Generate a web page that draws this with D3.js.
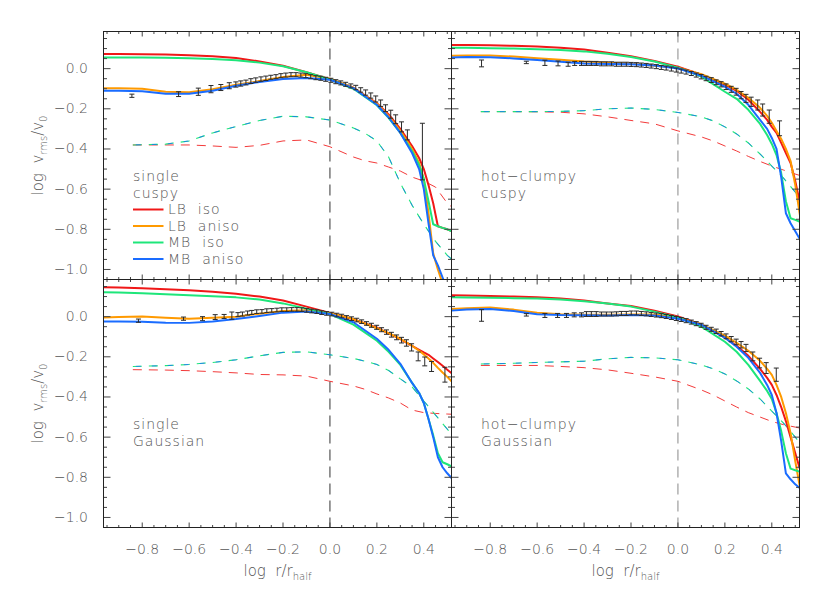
<!DOCTYPE html>
<html>
<head>
<meta charset="utf-8">
<script src="https://cdn.jsdelivr.net/npm/d3@7"></script>
<style>
body { margin: 0; background: #fff; }
svg { display: block; font-family: "DejaVu Sans", sans-serif; font-weight: 200; }
</style>
</head>
<body>
<svg id="chart" width="830" height="593"></svg>
<script>
// x positions (log r/r_half) of the model curves
const lineX = [-0.965, -0.9, -0.8, -0.7, -0.6, -0.5, -0.4, -0.3, -0.2, -0.1, 0.0, 0.1, 0.2, 0.25, 0.3, 0.35, 0.38, 0.40, 0.42, 0.44, 0.46, 0.48, 0.50, 0.52];
const dashX = [-0.84, -0.7, -0.6, -0.5, -0.4, -0.3, -0.2, -0.1, 0.0, 0.1, 0.15, 0.2, 0.25, 0.3, 0.35, 0.4, 0.45, 0.5, 0.52];

// single / cuspy
const scLBiso   = [0.073, 0.073, 0.072, 0.070, 0.067, 0.062, 0.053, 0.036, 0.014, -0.018, -0.052, -0.095, -0.172, -0.228, -0.300, -0.385, -0.445, -0.50, -0.58, -0.67, -0.785, -0.793, -0.80, -0.81];
const scLBaniso = [-0.098, -0.098, -0.100, -0.115, -0.118, -0.102, -0.080, -0.062, -0.042, -0.030, -0.050, -0.095, -0.175, -0.235, -0.31, -0.40, -0.47, -0.55, -0.72, -0.92, -1.0, -1.07, -1.12, -1.12];
const scMBiso   = [0.056, 0.056, 0.055, 0.054, 0.052, 0.048, 0.042, 0.030, 0.012, -0.018, -0.054, -0.100, -0.182, -0.245, -0.320, -0.41, -0.48, -0.55, -0.66, -0.775, -0.785, -0.793, -0.80, -0.81];
const scMBaniso = [-0.110, -0.110, -0.112, -0.125, -0.125, -0.110, -0.085, -0.066, -0.052, -0.046, -0.055, -0.097, -0.180, -0.242, -0.32, -0.42, -0.50, -0.60, -0.77, -0.93, -0.98, -1.04, -1.1, -1.1];
const scLBdash  = [-0.38, -0.38, -0.38, -0.385, -0.392, -0.382, -0.36, -0.355, -0.389, -0.44, -0.459, -0.47, -0.49, -0.51, -0.54, -0.56, -0.59, -0.67, -0.69];
const scMBdash  = [-0.38, -0.376, -0.36, -0.32, -0.288, -0.258, -0.237, -0.240, -0.256, -0.295, -0.322, -0.36, -0.44, -0.57, -0.68, -0.775, -0.86, -0.93, -0.95];
const scObs = [
  [-0.844,-0.135,0.008], [-0.645,-0.127,0.012], [-0.561,-0.115,0.018], [-0.507,-0.102,0.018],
  [-0.465,-0.094,0.015], [-0.429,-0.085,0.015], [-0.401,-0.079,0.013], [-0.380,-0.074,0.013],
  [-0.358,-0.069,0.012], [-0.337,-0.062,0.012], [-0.316,-0.057,0.011], [-0.294,-0.052,0.011],
  [-0.273,-0.048,0.011], [-0.252,-0.043,0.010], [-0.230,-0.040,0.010], [-0.209,-0.035,0.010],
  [-0.188,-0.032,0.010], [-0.166,-0.030,0.010], [-0.145,-0.030,0.010], [-0.124,-0.032,0.010],
  [-0.103,-0.035,0.010], [-0.082,-0.040,0.010], [-0.060,-0.045,0.010], [-0.039,-0.048,0.010],
  [-0.018,-0.053,0.010], [0.004,-0.058,0.010], [0.025,-0.065,0.010], [0.046,-0.071,0.010],
  [0.067,-0.078,0.010], [0.089,-0.086,0.010], [0.110,-0.094,0.011], [0.131,-0.106,0.011],
  [0.152,-0.119,0.013], [0.174,-0.134,0.013], [0.195,-0.151,0.015], [0.216,-0.172,0.016],
  [0.237,-0.197,0.017], [0.259,-0.227,0.020], [0.280,-0.252,0.022], [0.305,-0.290,0.025],
  [0.330,-0.330,0.025], [0.394,-0.413,0.141]
];

// hot-clumpy / cuspy
const hcLBiso   = [0.118, 0.118, 0.116, 0.114, 0.110, 0.104, 0.095, 0.079, 0.062, 0.038, 0.010, -0.030, -0.080, -0.110, -0.155, -0.215, -0.255, -0.29, -0.32, -0.37, -0.42, -0.47, -0.56, -0.67];
const hcLBaniso = [0.064, 0.066, 0.066, 0.060, 0.052, 0.044, 0.035, 0.030, 0.025, 0.015, 0.005, -0.028, -0.075, -0.105, -0.145, -0.195, -0.235, -0.27, -0.31, -0.35, -0.40, -0.46, -0.58, -0.73];
const hcMBiso   = [0.104, 0.104, 0.102, 0.100, 0.097, 0.093, 0.086, 0.074, 0.058, 0.036, 0.005, -0.040, -0.115, -0.150, -0.205, -0.275, -0.33, -0.375, -0.43, -0.52, -0.66, -0.745, -0.753, -0.763];
const hcMBaniso = [0.055, 0.058, 0.057, 0.051, 0.043, 0.034, 0.026, 0.023, 0.022, 0.016, 0.001, -0.035, -0.090, -0.125, -0.180, -0.255, -0.30, -0.345, -0.40, -0.54, -0.72, -0.77, -0.81, -0.85];
const hcLBdash  = [-0.214, -0.214, -0.215, -0.217, -0.225, -0.240, -0.258, -0.275, -0.31, -0.34, -0.36, -0.385, -0.41, -0.437, -0.462, -0.485, -0.505, -0.525, -0.532];
const hcMBdash  = [-0.214, -0.214, -0.214, -0.213, -0.209, -0.200, -0.196, -0.203, -0.218, -0.24, -0.26, -0.29, -0.325, -0.37, -0.425, -0.485, -0.545, -0.615, -0.64];
const hcObs = [
  [-0.837,0.026,0.017], [-0.646,0.031,0.006], [-0.567,0.029,0.013], [-0.511,0.026,0.012],
  [-0.468,0.022,0.010], [-0.440,0.026,0.010], [-0.411,0.026,0.010], [-0.390,0.026,0.010],
  [-0.369,0.026,0.010], [-0.348,0.026,0.010], [-0.326,0.024,0.010], [-0.305,0.024,0.010],
  [-0.283,0.024,0.010], [-0.262,0.022,0.010], [-0.241,0.022,0.010], [-0.220,0.022,0.010],
  [-0.199,0.021,0.010], [-0.177,0.020,0.010], [-0.156,0.018,0.010], [-0.135,0.016,0.010],
  [-0.114,0.013,0.010], [-0.092,0.010,0.010], [-0.071,0.006,0.010], [-0.050,0.003,0.010],
  [-0.028,-0.002,0.010], [-0.007,-0.007,0.010], [0.014,-0.012,0.010], [0.035,-0.017,0.010],
  [0.057,-0.024,0.010], [0.078,-0.032,0.010], [0.099,-0.040,0.011], [0.120,-0.049,0.011],
  [0.142,-0.057,0.012], [0.163,-0.068,0.012], [0.184,-0.078,0.013], [0.205,-0.090,0.014],
  [0.227,-0.103,0.015], [0.248,-0.115,0.017], [0.269,-0.132,0.018], [0.290,-0.148,0.020],
  [0.312,-0.165,0.023], [0.340,-0.181,0.025], [0.361,-0.206,0.030], [0.389,-0.239,0.033],
  [0.433,-0.297,0.037]
];

// single / Gaussian
const sgLBiso   = [0.146, 0.145, 0.141, 0.137, 0.131, 0.124, 0.114, 0.100, 0.080, 0.050, 0.018, -0.013, -0.055, -0.083, -0.112, -0.145, -0.165, -0.178, -0.19, -0.208, -0.226, -0.245, -0.264, -0.283];
const sgLBaniso = [-0.004, -0.002, 0.001, -0.005, -0.010, -0.006, 0.000, 0.015, 0.028, 0.032, 0.018, -0.012, -0.058, -0.082, -0.11, -0.145, -0.170, -0.188, -0.208, -0.230, -0.255, -0.278, -0.300, -0.324];
const sgMBiso   = [0.122, 0.120, 0.116, 0.112, 0.107, 0.102, 0.096, 0.085, 0.066, 0.040, 0.013, -0.040, -0.120, -0.175, -0.24, -0.33, -0.38, -0.43, -0.51, -0.59, -0.68, -0.725, -0.735, -0.747];
const sgMBaniso = [-0.024, -0.024, -0.025, -0.030, -0.031, -0.024, -0.012, 0.003, 0.020, 0.026, 0.013, -0.028, -0.110, -0.165, -0.235, -0.33, -0.38, -0.43, -0.51, -0.60, -0.70, -0.75, -0.78, -0.806];
const sgLBdash  = [-0.264, -0.266, -0.269, -0.274, -0.280, -0.288, -0.290, -0.296, -0.322, -0.345, -0.362, -0.385, -0.405, -0.43, -0.465, -0.478, -0.482, -0.485, -0.486];
const sgMBdash  = [-0.248, -0.244, -0.238, -0.228, -0.215, -0.195, -0.178, -0.175, -0.19, -0.208, -0.222, -0.238, -0.268, -0.31, -0.35, -0.42, -0.49, -0.56, -0.59];
const sgObs = [
  [-0.816,-0.020,0.008], [-0.624,-0.010,0.008], [-0.543,-0.010,0.010], [-0.489,-0.002,0.012],
  [-0.451,0.001,0.010], [-0.418,0.005,0.018], [-0.392,0.010,0.010], [-0.373,0.013,0.010],
  [-0.351,0.018,0.010], [-0.333,0.021,0.010], [-0.312,0.025,0.009], [-0.290,0.026,0.009],
  [-0.269,0.030,0.009], [-0.248,0.031,0.009], [-0.226,0.033,0.009], [-0.205,0.035,0.009],
  [-0.184,0.035,0.009], [-0.163,0.036,0.009], [-0.141,0.036,0.009], [-0.120,0.035,0.009],
  [-0.099,0.031,0.009], [-0.078,0.028,0.009], [-0.056,0.025,0.009], [-0.035,0.020,0.009],
  [-0.014,0.016,0.009], [0.008,0.013,0.009], [0.029,0.008,0.009], [0.050,0.003,0.009],
  [0.071,-0.004,0.009], [0.092,-0.010,0.009], [0.114,-0.017,0.009], [0.135,-0.025,0.009],
  [0.156,-0.034,0.009], [0.177,-0.043,0.010], [0.199,-0.053,0.010], [0.220,-0.065,0.010],
  [0.241,-0.077,0.011], [0.262,-0.090,0.012], [0.284,-0.103,0.012], [0.305,-0.117,0.014],
  [0.326,-0.131,0.016], [0.348,-0.153,0.018], [0.376,-0.198,0.022], [0.404,-0.223,0.022],
  [0.433,-0.248,0.025], [0.490,-0.289,0.037]
];

// hot-clumpy / Gaussian
const hgLBiso   = [0.106, 0.105, 0.103, 0.100, 0.097, 0.090, 0.080, 0.066, 0.053, 0.030, 0.001, -0.040, -0.105, -0.145, -0.195, -0.26, -0.305, -0.34, -0.39, -0.45, -0.52, -0.60, -0.68, -0.76];
const hgLBaniso = [0.038, 0.042, 0.045, 0.035, 0.020, 0.012, 0.010, 0.009, 0.011, 0.011, -0.007, -0.038, -0.095, -0.130, -0.17, -0.22, -0.26, -0.29, -0.34, -0.40, -0.48, -0.58, -0.72, -0.85];
const hgMBiso   = [0.096, 0.095, 0.094, 0.092, 0.090, 0.085, 0.077, 0.065, 0.050, 0.025, -0.004, -0.050, -0.125, -0.175, -0.24, -0.32, -0.37, -0.41, -0.48, -0.57, -0.68, -0.757, -0.765, -0.772];
const hgMBaniso = [0.030, 0.035, 0.038, 0.028, 0.012, 0.008, 0.007, 0.006, 0.008, 0.006, -0.010, -0.040, -0.105, -0.15, -0.205, -0.28, -0.34, -0.39, -0.48, -0.62, -0.78, -0.81, -0.835, -0.855];
const hgLBdash  = [-0.243, -0.243, -0.243, -0.248, -0.254, -0.265, -0.282, -0.300, -0.322, -0.365, -0.39, -0.42, -0.45, -0.478, -0.50, -0.522, -0.538, -0.55, -0.555];
const hgMBdash  = [-0.236, -0.232, -0.228, -0.225, -0.222, -0.21, -0.203, -0.205, -0.215, -0.24, -0.26, -0.285, -0.32, -0.36, -0.41, -0.47, -0.53, -0.60, -0.63];
const hgObs = [
  [-0.837,0.006,0.029], [-0.646,0.009,0.006], [-0.567,0.006,0.010], [-0.513,0.006,0.010],
  [-0.475,0.006,0.010], [-0.442,0.009,0.010], [-0.411,0.009,0.010], [-0.390,0.013,0.012],
  [-0.369,0.013,0.012], [-0.348,0.013,0.012], [-0.326,0.013,0.010], [-0.305,0.013,0.010],
  [-0.283,0.013,0.010], [-0.262,0.014,0.010], [-0.241,0.016,0.010], [-0.220,0.016,0.010],
  [-0.199,0.018,0.010], [-0.177,0.018,0.010], [-0.156,0.016,0.010], [-0.135,0.014,0.010],
  [-0.114,0.011,0.010], [-0.092,0.008,0.010], [-0.071,0.005,0.010], [-0.050,0.001,0.010],
  [-0.028,-0.004,0.010], [-0.007,-0.009,0.010], [0.014,-0.014,0.010], [0.035,-0.020,0.010],
  [0.057,-0.027,0.010], [0.078,-0.035,0.010], [0.099,-0.043,0.010], [0.120,-0.053,0.010],
  [0.142,-0.063,0.010], [0.163,-0.073,0.011], [0.184,-0.085,0.011], [0.205,-0.098,0.012],
  [0.227,-0.112,0.013], [0.248,-0.126,0.014], [0.269,-0.140,0.016], [0.290,-0.156,0.018],
  [0.319,-0.198,0.022], [0.348,-0.231,0.024], [0.376,-0.256,0.027], [0.419,-0.289,0.033]
];

const models = ["LB iso", "LB aniso", "MB iso", "MB aniso"];
const modelColors = ["#f01818", "#ff9a00", "#1ee67a", "#1a6cff"];
const xMajor = [-0.8, -0.6, -0.4, -0.2, 0.0, 0.2, 0.4];
const xMinor = [-0.95, -0.9, -0.85, -0.75, -0.7, -0.65, -0.55, -0.5, -0.45, -0.35, -0.3, -0.25, -0.15, -0.1, -0.05, 0.05, 0.1, 0.15, 0.25, 0.3, 0.35, 0.45, 0.5];
const yMajor = [0.0, -0.2, -0.4, -0.6, -0.8, -1.0];
const yMinor = [0.15, 0.1, 0.05, -0.05, -0.1, -0.15, -0.25, -0.3, -0.35, -0.45, -0.5, -0.55, -0.65, -0.7, -0.75, -0.85, -0.9, -0.95];

const panels = [
  {col: 0, row: 0, text: ["single", "cuspy"], legend: true,
   solid: [scLBiso, scLBaniso, scMBiso, scMBaniso], lbDash: scLBdash, mbDash: scMBdash, obs: scObs},
  {col: 1, row: 0, text: ["hot\u2212clumpy", "cuspy"], legend: false,
   solid: [hcLBiso, hcLBaniso, hcMBiso, hcMBaniso], lbDash: hcLBdash, mbDash: hcMBdash, obs: hcObs},
  {col: 0, row: 1, text: ["single", "Gaussian"], legend: false,
   solid: [sgLBiso, sgLBaniso, sgMBiso, sgMBaniso], lbDash: sgLBdash, mbDash: sgMBdash, obs: sgObs},
  {col: 1, row: 1, text: ["hot\u2212clumpy", "Gaussian"], legend: false,
   solid: [hgLBiso, hgLBaniso, hgMBiso, hgMBaniso], lbDash: hgLBdash, mbDash: hgMBdash, obs: hgObs}
];

const margin = {left: 103.5, top: 31.5};
const pw = 348, ph = 248;
const textColor = "#555";

const svg = d3.select("#chart");

const x = d3.scaleLinear().domain([-0.965, 0.518]).range([0, pw]);
const y = d3.scaleLinear().domain([0.185, -1.05]).range([0, ph]);

const line = d3.line().x(d => x(d[0])).y(d => y(d[1]));
const fmt = d3.format(".1f");

function styleAxis(g) {
  g.select(".domain").remove();
  g.selectAll(".tick line").attr("stroke", "#444").attr("stroke-width", 1);
  g.selectAll(".tick text")
    .attr("fill", textColor)
    .attr("font-size", 14)
    .attr("font-family", "DejaVu Sans, sans-serif")
    .attr("font-weight", 200);
}

panels.forEach((p, i) => {
  const g = svg.append("g")
    .attr("transform", `translate(${margin.left + p.col * pw},${margin.top + p.row * ph})`);

  g.append("clipPath").attr("id", "clip" + i)
    .append("rect").attr("width", pw).attr("height", ph);

  const plot = g.append("g").attr("clip-path", `url(#clip${i})`);

  // vertical dashed line at r = r_half
  plot.append("line")
    .attr("x1", x(0)).attr("x2", x(0))
    .attr("y1", 0).attr("y2", ph)
    .attr("stroke", p.col === 0 ? "#333" : "#888")
    .attr("stroke-width", 1)
    .attr("stroke-dasharray", "11,6");

  // dashed model curves
  const lbd = dashX.map((v, k) => [v, p.lbDash[k]]);
  const mbd = dashX.map((v, k) => [v, p.mbDash[k]]);
  plot.append("path").attr("d", line(lbd))
    .attr("fill", "none").attr("stroke", modelColors[0]).attr("stroke-width", 1)
    .attr("stroke-dasharray", "9,7").attr("stroke-opacity", 0.85);
  plot.append("path").attr("d", line(mbd))
    .attr("fill", "none").attr("stroke", modelColors[2]).attr("stroke-width", 1.1)
    .attr("stroke-dasharray", "9,7");
  plot.append("path").attr("d", line(mbd))
    .attr("fill", "none").attr("stroke", modelColors[3]).attr("stroke-width", 1)
    .attr("stroke-dasharray", "5,11").attr("stroke-dashoffset", -3).attr("stroke-opacity", 0.75);

  // solid model curves
  p.solid.forEach((vals, k) => {
    plot.append("path")
      .attr("d", line(lineX.map((v, j) => [v, vals[j]])))
      .attr("fill", "none")
      .attr("stroke", modelColors[k])
      .attr("stroke-width", 2)
      .attr("stroke-linejoin", "round");
  });

  // data with error bars
  const bars = plot.append("g").attr("stroke", "#2a2a2a").attr("stroke-width", 1);
  bars.selectAll("g.eb").data(p.obs).join("g").attr("class", "eb")
    .each(function(d) {
      const e = d3.select(this);
      const cx = x(d[0]), y1 = y(d[1] + d[2]), y2 = y(d[1] - d[2]);
      e.append("line").attr("x1", cx).attr("x2", cx).attr("y1", y1).attr("y2", y2);
      e.append("line").attr("x1", cx - 2.5).attr("x2", cx + 2.5).attr("y1", y1).attr("y2", y1);
      e.append("line").attr("x1", cx - 2.5).attr("x2", cx + 2.5).attr("y1", y2).attr("y2", y2);
    });

  // ticks on all four sides, pointing inwards
  const bottomMajor = d3.axisBottom(x).tickValues(xMajor).tickSize(-5).offset(0)
    .tickPadding(17).tickFormat(p.row === 1 ? fmt : "");
  g.append("g").attr("transform", `translate(0,${ph})`).call(bottomMajor).call(styleAxis);
  g.append("g").attr("transform", `translate(0,${ph})`)
    .call(d3.axisBottom(x).tickValues(xMinor).tickSize(-2.5).offset(0).tickFormat("")).call(styleAxis);
  g.append("g").call(d3.axisTop(x).tickValues(xMajor).tickSize(-5).offset(0).tickFormat("")).call(styleAxis);
  g.append("g").call(d3.axisTop(x).tickValues(xMinor).tickSize(-2.5).offset(0).tickFormat("")).call(styleAxis);

  g.append("g").call(d3.axisLeft(y).tickValues(yMajor).tickSize(-7).offset(0)
    .tickPadding(15.5).tickFormat(p.col === 0 ? fmt : "")).call(styleAxis);
  g.append("g").call(d3.axisLeft(y).tickValues(yMinor).tickSize(-3.5).offset(0).tickFormat("")).call(styleAxis);
  g.append("g").attr("transform", `translate(${pw},0)`)
    .call(d3.axisRight(y).tickValues(yMajor).tickSize(-7).offset(0).tickFormat("")).call(styleAxis);
  g.append("g").attr("transform", `translate(${pw},0)`)
    .call(d3.axisRight(y).tickValues(yMinor).tickSize(-3.5).offset(0).tickFormat("")).call(styleAxis);

  // frame
  g.append("rect").attr("width", pw).attr("height", ph)
    .attr("fill", "none").attr("stroke", "#222").attr("stroke-width", 1);

  // panel label
  const lx = 29.5, ly = 145, lh = 16.5;
  p.text.forEach((t, k) => {
    g.append("text").attr("x", lx).attr("y", ly + k * lh).attr("dy", "0.35em")
      .attr("fill", textColor).attr("font-size", 14).attr("letter-spacing", 1).text(t);
  });

  if (p.legend) {
    models.forEach((m, k) => {
      const yy = ly + (k + 2) * lh;
      g.append("line").attr("x1", lx).attr("x2", lx + 30.5).attr("y1", yy).attr("y2", yy)
        .attr("stroke", modelColors[k]).attr("stroke-width", 2);
      g.append("text").attr("x", lx + 35).attr("y", yy).attr("dy", "0.35em")
        .attr("fill", textColor).attr("font-size", 14).attr("letter-spacing", 1)
        .style("white-space", "pre").text(m.replace(" ", "  "));
    });
  }
});

// axis titles
[0, 1].forEach(row => {
  const t = svg.append("text")
    .attr("transform", `translate(43,${margin.top + row * ph + ph / 2}) rotate(-90)`)
    .attr("text-anchor", "middle").attr("fill", textColor).attr("font-size", 15)
    .style("white-space", "pre");
  t.append("tspan").text("log  v");
  t.append("tspan").attr("font-size", 10).attr("dy", 4).text("rms");
  t.append("tspan").attr("dy", -4).text("/v");
  t.append("tspan").attr("font-size", 10).attr("dy", 4).text("0");
});

[0, 1].forEach(col => {
  const t = svg.append("text")
    .attr("x", margin.left + col * pw + pw / 2).attr("y", 576)
    .attr("text-anchor", "middle").attr("fill", textColor).attr("font-size", 15)
    .style("white-space", "pre");
  t.append("tspan").text("log  r/r");
  t.append("tspan").attr("font-size", 10).attr("dy", 4).text("half");
});
</script>
</body>
</html>
